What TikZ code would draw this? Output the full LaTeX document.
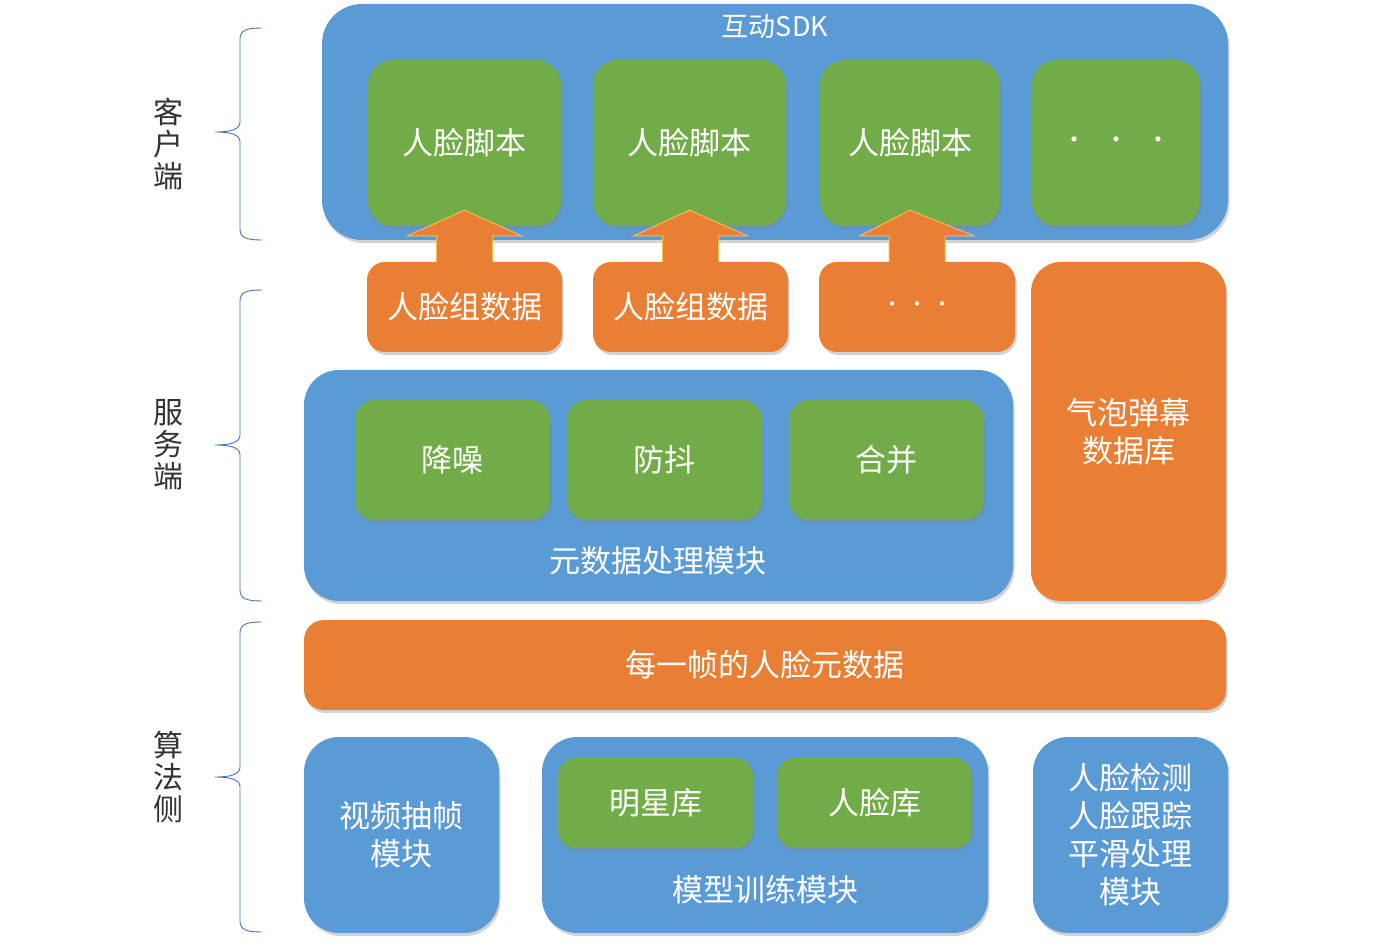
\documentclass[tikz,border=0pt]{standalone}
\usepackage{fontspec}
\setmainfont{Noto Sans CJK SC}
\usetikzlibrary{calc,shadows}
\definecolor{kblue}{HTML}{5B9BD5}
\definecolor{kgreen}{HTML}{72AC48}
\definecolor{korange}{HTML}{E97F34}
\definecolor{kedge}{HTML}{F6BC45}
\definecolor{kline}{HTML}{4A72B8}
\definecolor{ktext}{HTML}{333333}
\begin{document}
\begin{tikzpicture}[x=1pt,y=-1pt,
    box/.style={rectangle, rounded corners=#1, inner sep=0pt, text=white, align=center,
      font=\fontsize{31}{38}\selectfont,
      drop shadow={opacity=.35, shadow xshift=1.5pt, shadow yshift=-3pt}},
    box/.default=25pt,
    txt/.style={text=white, align=center, font=\fontsize{31}{38}\selectfont},
    lbl/.style={text=ktext, align=center, font=\fontsize{30}{32}\selectfont}]
    \useasboundingbox (0,0) rectangle (1400,949);

    \node[box=40pt, fill=kblue, minimum width=906pt, minimum height=236pt] (client) at (775,122) {};
    \node[txt, font=\fontsize{27}{30}\selectfont] (sdk) at (775,26) {互动SDK};
    \node[box, fill=kgreen, minimum width=193pt, minimum height=166pt] (s1) at (464.5,143) {人脸脚本};
    \node[box, fill=kgreen, minimum width=193pt, minimum height=166pt] (s2) at (689.5,143) {人脸脚本};
    \node[box, fill=kgreen, minimum width=180pt, minimum height=166pt] (s3) at (910,143) {人脸脚本};
    \node[box, fill=kgreen, minimum width=168pt, minimum height=166pt] (s4) at (1116,143) {\fontsize{24}{26}\selectfont ·\hspace{18pt}·\hspace{18pt}·};

    \node[box=18pt, fill=korange, minimum width=195pt, minimum height=90pt] (d1) at (464.5,307) {人脸组数据};
    \node[box=18pt, fill=korange, minimum width=195pt, minimum height=90pt] (d2) at (690.5,307) {人脸组数据};
    \node[box=18pt, fill=korange, minimum width=196pt, minimum height=90pt] (d3) at (917,307) {\fontsize{20}{24}\selectfont ·\hspace{5pt}·\hspace{5pt}·};
    \node[box=30pt, fill=korange, minimum width=195pt, minimum height=339pt] (db) at (1128.5,431.5) {气泡弹幕\\数据库};

    \foreach \d/\s in {d1/s1,d2/s2,d3/s3}
      \filldraw[fill=korange, draw=kedge, line width=1pt]
        ($(\d.north)+(-28,0)$) -- ($(\d.north)+(-28,-26)$) -- ($(\d.north)+(-57,-26)$)
        -- ($(\s.south)+(0,-16)$)
        -- ($(\d.north)+(57,-26)$) -- ($(\d.north)+(28,-26)$) -- ($(\d.north)+(28,0)$);

    \node[box=35pt, fill=kblue, minimum width=709pt, minimum height=231pt] (meta) at (658.5,485.5) {};
    \node[box=20pt, fill=kgreen, minimum width=195pt, minimum height=120pt] (n1) at (452.5,460) {降噪};
    \node[box=20pt, fill=kgreen, minimum width=195pt, minimum height=120pt] (n2) at (664.5,460) {防抖};
    \node[box=20pt, fill=kgreen, minimum width=195pt, minimum height=120pt] (n3) at (886.5,460) {合并};
    \node[txt] (metalbl) at (658,561) {元数据处理模块};

    \node[box=20pt, fill=korange, minimum width=922pt, minimum height=90pt] (frame) at (765,665) {每一帧的人脸元数据};

    \node[box=35pt, fill=kblue, minimum width=195pt, minimum height=196pt] (vid) at (401.5,835) {视频抽帧\\模块};
    \node[box=35pt, fill=kblue, minimum width=446pt, minimum height=196pt] (train) at (765,835) {};
    \node[box=18pt, fill=kgreen, minimum width=195pt, minimum height=90pt] (g1) at (655.5,803) {明星库};
    \node[box=18pt, fill=kgreen, minimum width=195pt, minimum height=90pt] (g2) at (874.5,803) {人脸库};
    \node[txt] (trainlbl) at (765,890) {模型训练模块};
    \node[box=35pt, fill=kblue, minimum width=195pt, minimum height=196pt] (algo) at (1130.5,835) {人脸检测\\人脸跟踪\\平滑处理\\模块};

    \foreach \t/\m/\b in {28/132/240, 290/445/601, 622/777/932}
      \draw[kline, line width=.9pt]
        (262,\t) .. controls (247,\t) and (240,\t+2) .. (240,\t+11) -- (240,\m-10)
        .. controls (240,\m-3) and (232,\m) .. (215,\m)
        .. controls (232,\m) and (240,\m+3) .. (240,\m+10) -- (240,\b-11)
        .. controls (240,\b-2) and (247,\b) .. (262,\b);
    \node[lbl] (cside) at (168,144) {客\\户\\端};
    \node[lbl] (sside) at (168,445) {服\\务\\端};
    \node[lbl] (aside) at (168,777) {算\\法\\侧};
\end{tikzpicture}
\end{document}
